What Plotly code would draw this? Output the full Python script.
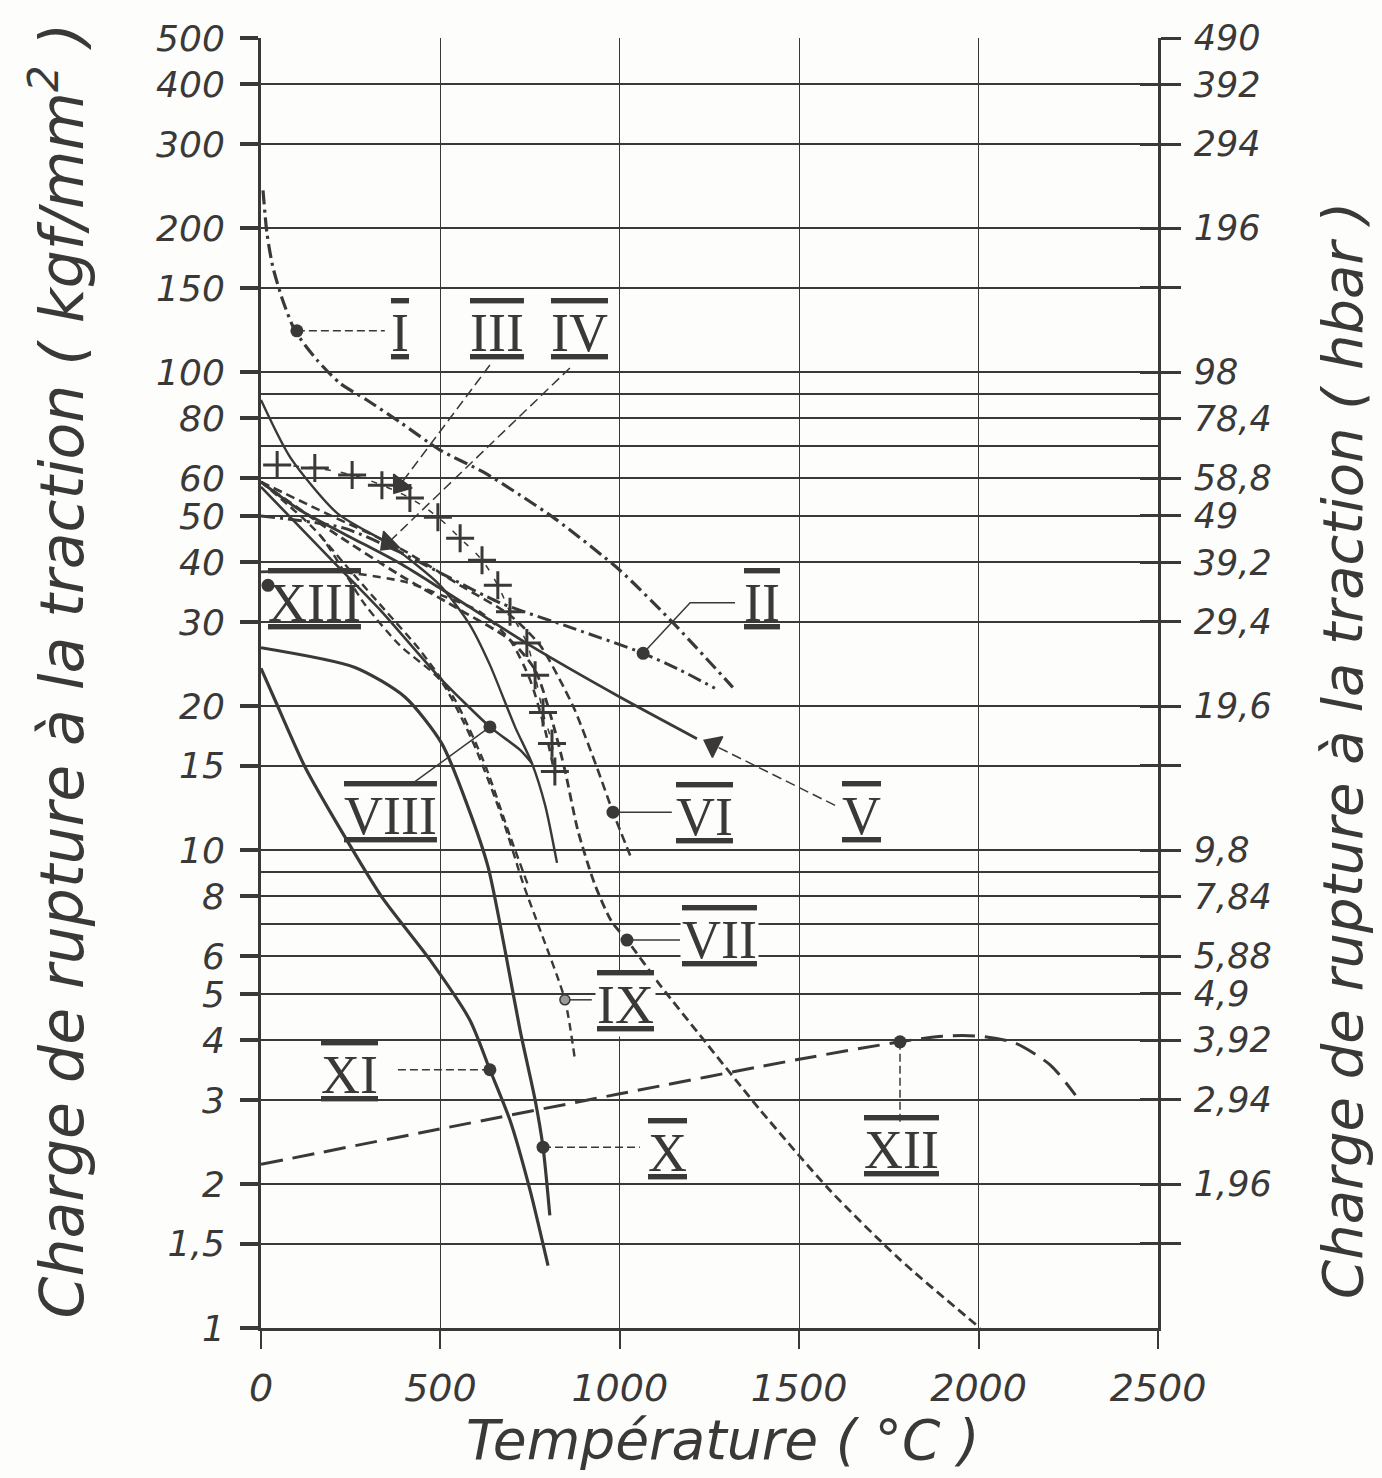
import math
import plotly.graph_objects as go

# ---------------- data (T in °C, charge in kgf/mm²) ----------------
I_T = [5.6, 16.7, 33, 61, 95, 156, 220, 295, 387, 499, 619, 722, 825, 1000, 1148, 1315]
I_V = [240, 195, 166, 141, 122, 106, 94.8, 87.4, 78.6, 68.7, 61.8, 55.3, 49.0, 38.5, 29.9, 21.9]

II_T = [0, 229, 387, 527, 666, 870, 1065, 1168, 1265]
II_V = [50.0, 47.2, 42.0, 37.1, 32.9, 29.1, 25.8, 23.8, 21.8]

III_T = [45, 150, 254, 337, 415, 493, 555, 616, 660, 694, 741, 764, 786, 811, 819]
III_V = [63.9, 63.0, 60.9, 58.0, 54.5, 49.7, 44.9, 40.4, 35.8, 31.5, 27.1, 23.2, 19.4, 16.7, 14.6]

IV_T = [0, 81, 212, 360, 499, 582, 638, 708, 755, 792, 825]
IV_V = [87.4, 66.4, 50.7, 43.5, 35.8, 29.6, 24.4, 18.1, 15.2, 12.4, 9.40]

V_T = [0, 109, 248, 387, 499, 750, 1000, 1215]
V_V = [58.9, 51.4, 45.2, 39.8, 35.3, 26.8, 20.9, 17.1]

VI_T = [0, 192, 387, 555, 694, 778, 833, 875, 936, 981, 1034]
VI_V = [58.9, 50.2, 42.8, 35.8, 31.0, 26.8, 22.7, 19.6, 14.9, 12.0, 9.53]

VII_T = [0, 192, 387, 555, 694, 764, 811, 847, 883, 931, 978, 1020, 1112, 1223, 1391, 1586, 1781, 2004]
VII_V = [58.9, 46.7, 37.6, 31.8, 27.5, 23.8, 18.7, 14.7, 11.0, 8.45, 7.07, 6.48, 5.22, 4.10, 2.86, 1.94, 1.39, 1.0]

VIII_T = [0, 206, 332, 499, 638, 722, 755]
VIII_V = [57.5, 39.8, 31.8, 22.9, 18.1, 16.2, 15.2]

IX_T = [0, 164, 290, 387, 499, 588, 672, 730, 778, 847, 875]
IX_V = [58.9, 45.6, 32.6, 26.8, 22.7, 17.0, 11.7, 8.53, 6.80, 4.86, 3.64]

IXb_T = [164, 248, 345, 443, 541, 624, 694, 744]
IXb_V = [45.6, 38.5, 31.8, 26.2, 20.6, 15.1, 10.7, 8.45]

X_T = [0, 262, 401, 504, 577, 633, 680, 722, 764, 786, 805]
X_V = [26.5, 24.1, 20.9, 16.7, 12.3, 9.21, 6.18, 4.20, 3.00, 2.39, 1.72]

XI_T = [0, 39, 123, 226, 337, 471, 582, 638, 694, 750, 800]
XI_V = [24.0, 20.6, 14.9, 10.9, 7.97, 5.89, 4.41, 3.47, 2.72, 1.94, 1.35]

XII_T = [0, 500, 1000, 1500, 1781, 1900, 2000, 2100, 2200, 2270]
XII_V = [2.2, 2.61, 3.09, 3.65, 3.97, 4.08, 4.08, 3.95, 3.55, 3.07]

XIII_T = [0, 220, 401, 504, 610, 694, 750, 792, 819]
XIII_V = [38.2, 38.2, 36.4, 34.1, 31.5, 27.5, 22.7, 17.8, 14.4]

# marker dots on curves
DOT_T = [100, 1065, 981, 1020, 638, 786, 638, 1781, 19.5]
DOT_V = [122, 25.8, 12.0, 6.48, 18.1, 2.39, 3.47, 3.97, 35.8]
IXDOT_T = [847]
IXDOT_V = [4.86]

# leader lines (label -> curve)
LEADERS = {
    "I": ([100, 345], [122, 122], "dash"),
    "II": ([1065, 1196, 1321], [25.8, 32.9, 32.9], "solid"),
    "VI": ([981, 1145], [12.0, 12.0], "solid"),
    "VII": ([1020, 1168], [6.48, 6.48], "solid"),
    "VIII": ([638, 429], [18.1, 13.9], "solid"),
    "IX": ([847, 922], [4.86, 4.86], "solid"),
    "X": ([786, 1056], [2.39, 2.39], "dash"),
    "XI": ([638, 373], [3.47, 3.47], "dash"),
    "XII": ([1781, 1781], [3.97, 2.66], "dash"),
}
ARROWS = {
    "III": ([638, 387], [103.5, 58.0]),
    "IV": ([861, 354], [102, 43.9]),
    "V": ([1600, 1260], [12.4, 16.6]),
}
LABELS = {
    "I": (387, 121), "II": (1396, 32.9), "III": (658, 121), "IV": (889, 121),
    "V": (1675, 11.8), "VI": (1237, 11.7), "VII": (1279, 6.48), "VIII": (360, 11.8),
    "IX": (1017, 4.74), "X": (1134, 2.32), "XI": (248, 3.38), "XII": (1786, 2.36),
    "XIII": (150, 32.9),
}

Y_TICKS = [1, 1.5, 2, 3, 4, 5, 6, 8, 10, 15, 20, 30, 40, 50, 60, 80, 100, 150, 200, 300, 400, 500]
Y_TEXT = ["1", "1,5", "2", "3", "4", "5", "6", "8", "10", "15", "20", "30", "40", "50", "60",
          "80", "100", "150", "200", "300", "400", "500"]
Y_MINOR = [7, 9, 70, 90]
H_TICKS = [490, 392, 294, 196, 98, 78.4, 58.8, 49, 39.2, 29.4, 19.6, 9.8, 7.84,
           5.88, 4.9, 3.92, 2.94, 1.96]
H_TEXT = ["490", "392", "294", "196", "98", "78,4", "58,8", "49", "39,2", "29,4", "19,6",
          "9,8", "7,84", "5,88", "4,9", "3,92", "2,94", "1,96"]
H_UNLABELED = [147, 14.7, 1.47]
X_TICKS = [0, 500, 1000, 1500, 2000, 2500]

INK = "#3a3937"
FONT = "DejaVu Sans"
SERIF = "Liberation Serif"

fig = go.Figure()

def curve(t, v, dash="solid", width=3.0, spline=True):
    fig.add_trace(go.Scatter(x=t, y=v, mode="lines",
                             line=dict(color=INK, width=width, dash=dash,
                                       shape="spline" if spline else "linear", smoothing=0.7),
                             hoverinfo="skip", showlegend=False))

curve(I_T, I_V, dash="14px,5px,3px,5px", width=3.2)
curve(II_T, II_V, dash="14px,5px,3px,5px", width=3.0)
fig.add_trace(go.Scatter(x=III_T, y=III_V, mode="lines+markers",
                         line=dict(color=INK, width=1.5, dash="6px,10px", shape="spline"),
                         marker=dict(symbol="cross-thin", size=20, line=dict(color=INK, width=3)),
                         hoverinfo="skip", showlegend=False))
curve(IV_T, IV_V, width=2.4)
curve(V_T, V_V, width=2.8)
curve(VI_T, VI_V, dash="9px,5px", width=2.6)
curve(VII_T, VII_V, dash="9px,5px", width=2.8)
curve(VIII_T, VIII_V, width=2.6)
curve(IX_T, IX_V, dash="8px,5px", width=2.4)
curve(IXb_T, IXb_V, dash="8px,5px", width=2.4)
curve(X_T, X_V, width=3.2)
curve(XI_T, XI_V, width=3.2)
curve(XII_T, XII_V, dash="22px,10px", width=3.0)
curve(XIII_T, XIII_V, dash="8px,6px", width=2.6)

for name, (t, v, d) in LEADERS.items():
    fig.add_trace(go.Scatter(x=t, y=v, mode="lines",
                             line=dict(color=INK, width=1.5, dash="8px,4px" if d == "dash" else "solid"),
                             hoverinfo="skip", showlegend=False))
for name, (t, v) in ARROWS.items():
    fig.add_trace(go.Scatter(x=t, y=v, mode="lines+markers",
                             line=dict(color=INK, width=1.5, dash="10px,5px"),
                             marker=dict(symbol=["circle", "triangle-up"], size=[0, 20],
                                         angleref="previous", color=INK, opacity=1,
                                         line=dict(color=INK, width=1.5)),
                             hoverinfo="skip", showlegend=False))

fig.add_trace(go.Scatter(x=DOT_T, y=DOT_V, mode="markers",
                         marker=dict(symbol="circle", size=13, color=INK),
                         hoverinfo="skip", showlegend=False))
fig.add_trace(go.Scatter(x=IXDOT_T, y=IXDOT_V, mode="markers",
                         marker=dict(symbol="circle", size=10, color="#9a9a9a",
                                     line=dict(color=INK, width=1.5)),
                         hoverinfo="skip", showlegend=False))

# dummy traces to keep right axes alive
fig.add_trace(go.Scatter(x=[0], y=[1.96], yaxis="y2", mode="markers",
                         marker=dict(opacity=0), hoverinfo="skip", showlegend=False))
fig.add_trace(go.Scatter(x=[0], y=[1.96], yaxis="y3", mode="markers",
                         marker=dict(opacity=0), hoverinfo="skip", showlegend=False))

# curve labels (annotation y on a log axis is given in log10 units)
for name, (t, v) in LABELS.items():
    fig.add_annotation(x=t, y=math.log10(v),
                       text=f"<span style='text-decoration:underline overline'>{name}</span>",
                       showarrow=False, xanchor="center", yanchor="middle",
                       font=dict(family=SERIF, size=54, color=INK),
                       bgcolor="#fdfdfc" if name in ("VII", "IX") else "rgba(0,0,0,0)")

fig.update_layout(
    width=1382, height=1478,
    margin=dict(l=261, r=224, t=38, b=150),
    paper_bgcolor="#fdfdfc", plot_bgcolor="#fdfdfc",
    showlegend=False,
    xaxis=dict(range=[0, 2500], tickvals=X_TICKS, ticktext=[str(v) for v in X_TICKS],
               showgrid=True, gridcolor=INK, gridwidth=1.2, zeroline=False,
               showline=True, linecolor=INK, linewidth=3,
               ticks="outside", ticklen=18, tickwidth=2, tickcolor=INK,
               tickfont=dict(family=FONT, size=38, color=INK, style="italic"),
               ticklabelstandoff=6),
    yaxis=dict(type="log", range=[0, 2.69897], tickvals=Y_TICKS, ticktext=Y_TEXT,
               showgrid=True, gridcolor=INK, gridwidth=1.5, zeroline=False,
               showline=True, linecolor=INK, linewidth=3,
               ticks="outside", ticklen=18, tickwidth=4, tickcolor=INK,
               tickfont=dict(family=FONT, size=36, color=INK, style="italic"),
               ticklabelstandoff=8,
               minor=dict(tickvals=Y_MINOR, showgrid=True, gridcolor=INK, gridwidth=1.5,
                          ticks="")),
    yaxis2=dict(type="log", overlaying="y", side="right",
                range=[-0.0087739, 2.690196], tickvals=H_TICKS, ticktext=H_TEXT,
                showgrid=False, zeroline=False, showline=True, linecolor=INK, linewidth=2.5,
                ticks="outside", ticklen=20, tickwidth=2.5, tickcolor=INK,
                tickfont=dict(family=FONT, size=35, color=INK, style="italic"),
                ticklabelstandoff=6,
                minor=dict(tickvals=H_UNLABELED, ticks="outside", ticklen=20, tickwidth=2.5,
                           tickcolor=INK, showgrid=False)),
    yaxis3=dict(type="log", overlaying="y", side="right",
                range=[-0.0087739, 2.690196], tickvals=H_TICKS + H_UNLABELED,
                showticklabels=False,
                showgrid=False, zeroline=False, showline=False,
                ticks="inside", ticklen=18, tickwidth=2.5, tickcolor=INK),
)

fig.add_annotation(xref="paper", yref="paper", x=-0.226, y=0.51, textangle=-90,
                   text="Charge de rupture à la traction ( kgf/mm<sup>2</sup> )",
                   showarrow=False, xanchor="center", yanchor="middle",
                   font=dict(family=FONT, size=60, color=INK, style="italic"))
fig.add_annotation(xref="paper", yref="paper", x=1.205, y=0.448, textangle=-90,
                   text="Charge de rupture à la traction ( hbar )",
                   showarrow=False, xanchor="center", yanchor="middle",
                   font=dict(family=FONT, size=56, color=INK, style="italic"))
fig.add_annotation(xref="paper", yref="paper", x=0.514, y=-0.087,
                   text="Température ( °C )",
                   showarrow=False, xanchor="center", yanchor="middle",
                   font=dict(family=FONT, size=55, color=INK, style="italic"))

fig.write_html("out.html")
